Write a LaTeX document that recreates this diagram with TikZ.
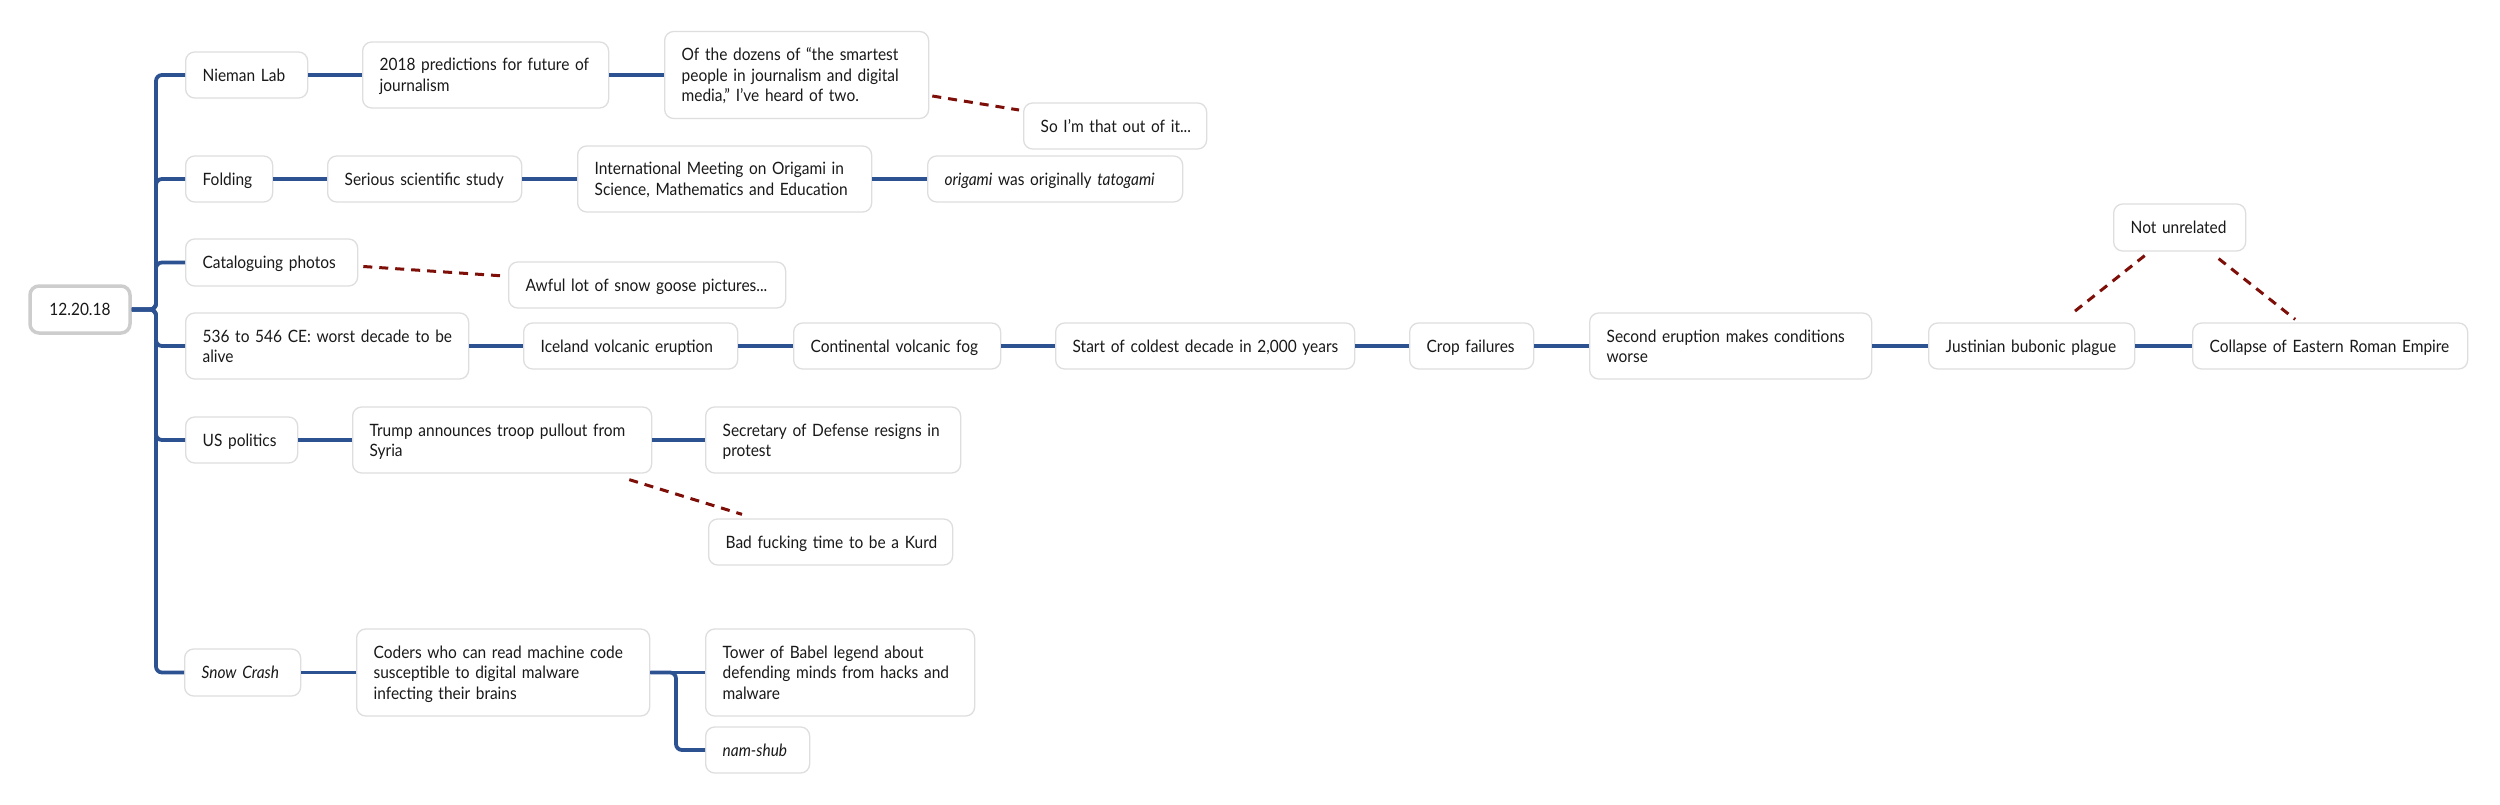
\documentclass[tikz,border=0pt]{standalone}
\usepackage{fontspec}
\setmainfont{Lato}[FakeStretch=0.91]
\usetikzlibrary{calc}
\definecolor{branchblue}{RGB}{45,82,145}
\definecolor{dashred}{RGB}{125,14,8}
\definecolor{boxgray}{RGB}{222,222,222}
\definecolor{rootgray}{RGB}{205,205,205}
\definecolor{txt}{RGB}{25,25,25}
\newcommand\ml[1]{\mbox{\rule[-4pt]{0pt}{20.5pt}#1}}
\newcommand\fs{\fontsize{17}{20.5}\selectfont}
\begin{document}
\begin{tikzpicture}[x=1pt,y=-1pt,
  box/.style={draw=boxgray, line width=1.3pt, rounded corners=9pt, fill=white, anchor=west,
    inner xsep=17pt, inner ysep=0pt, align=left, font=\fs, text=txt},
  rootbox/.style={draw=rootgray, line width=3.5pt, rounded corners=9pt, fill=white,
    inner sep=0pt, minimum width=100pt, minimum height=47pt, font=\fs, text=txt},
  branch/.style={draw=branchblue, line width=3.8pt, rounded corners=6pt},
  assoc/.style={draw=dashred, line width=3pt, dash pattern=on 9pt off 7pt}]
\fill[white] (0,0) rectangle (2500,805);
\useasboundingbox (0,0) rectangle (2500,805);

\node[rootbox] (root) at (80,309.5) {\ml{12.20.18}};

\node[box, text width=88pt, minimum height=46pt] (nieman) at (185,75) {\ml{Nieman Lab}};
\node[box, text width=212pt, minimum height=66pt] (pred) at (362,75) {\ml{2018 predictions for future of}\\\ml{journalism}};
\node[box, text width=230pt, minimum height=87pt] (dozens) at (664,75) {\ml{Of the dozens of “the smartest}\\\ml{people in journalism and digital}\\\ml{media,” I’ve heard of two.}};
\node[box, text width=149pt, minimum height=46pt] (sothat) at (1023,126) {\ml{So I’m that out of it...}};

\node[box, text width=53pt, minimum height=46pt] (folding) at (185,179) {\ml{Folding}};
\node[box, text width=160pt, minimum height=46pt] (serious) at (327,179) {\ml{Serious scientific study}};
\node[box, text width=260pt, minimum height=66pt] (intl) at (577,179) {\ml{International Meeting on Origami in}\\\ml{Science, Mathematics and Education}};
\node[box, text width=221pt, minimum height=46pt] (origami) at (927,179) {\ml{\textit{origami} was originally \textit{tatogami}}};

\node[box, text width=138pt, minimum height=47pt] (catalog) at (185,262.5) {\ml{Cataloguing photos}};
\node[box, text width=243pt, minimum height=46pt] (awful) at (508,285) {\ml{Awful lot of snow goose pictures...}};

\node[box, text width=249pt, minimum height=66pt] (decade) at (185,346) {\ml{536 to 546 CE: worst decade to be}\\\ml{alive}};
\node[box, text width=180pt, minimum height=46pt] (iceland) at (523,346) {\ml{Iceland volcanic eruption}};
\node[box, text width=173pt, minimum height=46pt] (fog) at (793,346) {\ml{Continental volcanic fog}};
\node[box, text width=265pt, minimum height=46pt] (coldest) at (1055,346) {\ml{Start of coldest decade in 2,000 years}};
\node[box, text width=90pt, minimum height=46pt] (crop) at (1409,346) {\ml{Crop failures}};
\node[box, text width=248pt, minimum height=66pt] (second) at (1589,346) {\ml{Second eruption makes conditions}\\\ml{worse}};
\node[box, text width=172pt, minimum height=46pt] (justinian) at (1928,346) {\ml{Justinian bubonic plague}};
\node[box, text width=241pt, minimum height=46pt] (collapse) at (2192,346) {\ml{Collapse of Eastern Roman Empire}};
\node[box, text width=98pt, minimum height=47pt] (unrelated) at (2113,227.5) {\ml{Not unrelated}};

\node[box, text width=78pt, minimum height=46pt] (uspol) at (185,440) {\ml{US politics}};
\node[box, text width=265pt, minimum height=66pt] (trump) at (352,440) {\ml{Trump announces troop pullout from}\\\ml{Syria}};
\node[box, text width=221pt, minimum height=66pt] (secretary) at (705,440) {\ml{Secretary of Defense resigns in}\\\ml{protest}};
\node[box, text width=210pt, minimum height=46pt] (bad) at (708,542) {\ml{Bad fucking time to be a Kurd}};

\node[box, text width=82pt, minimum height=47pt] (snow) at (184,672.5) {\ml{\textit{Snow Crash}}};
\node[box, text width=259pt, minimum height=87pt] (coders) at (356,672.5) {\ml{Coders who can read machine code}\\\ml{susceptible to digital malware}\\\ml{infecting their brains}};
\node[box, text width=235pt, minimum height=87pt] (tower) at (705,672.5) {\ml{Tower of Babel legend about}\\\ml{defending minds from hacks and}\\\ml{malware}};
\node[box, text width=70pt, minimum height=46pt] (namshub) at (705,750) {\ml{\textit{nam-shub}}};

% trunk
\coordinate (tr) at (156,309.5);
\foreach \c in {nieman,folding,catalog,decade,uspol,snow}
  \draw[branch] (root.east) -- (tr) |- (\c.west);

% horizontal links
\draw[branch] (nieman.east) -- (pred.west);
\draw[branch] (pred.east) -- (dozens.west);
\draw[branch] (folding.east) -- (serious.west);
\draw[branch] (serious.east) -- (intl.west);
\draw[branch] (intl.east) -- (origami.west);
\draw[branch] (decade.east) -- (iceland.west);
\draw[branch] (iceland.east) -- (fog.west);
\draw[branch] (fog.east) -- (coldest.west);
\draw[branch] (coldest.east) -- (crop.west);
\draw[branch] (crop.east) -- (second.west);
\draw[branch] (second.east) -- (justinian.west);
\draw[branch] (justinian.east) -- (collapse.west);
\draw[branch] (uspol.east) -- (trump.west);
\draw[branch] (trump.east) -- (secretary.west);
\draw[branch] (snow.east) -- (coders.west);
\draw[branch] (coders.east) -- (tower.west);
\coordinate (sb) at (676,672.5);
\draw[branch] (coders.east) -- (sb) |- (namshub.west);

% dashed associations
\draw[assoc] ($(dozens.east)+(3,21)$) -- ($(sothat.west)+(-4,-16)$);
\draw[assoc] ($(catalog.east)+(5,4)$) -- ($(awful.west)+(-4,-9)$);
\draw[assoc] ($(trump.south east)+(-23,6)$) -- ($(bad.north west)+(34,-4)$);
\draw[assoc] ($(unrelated.south)+(-35,4)$) -- ($(justinian.north)+(38,-7)$);
\draw[assoc] ($(unrelated.south)+(39,7)$) -- ($(collapse.north)+(-35,-3)$);
\end{tikzpicture}
\end{document}
